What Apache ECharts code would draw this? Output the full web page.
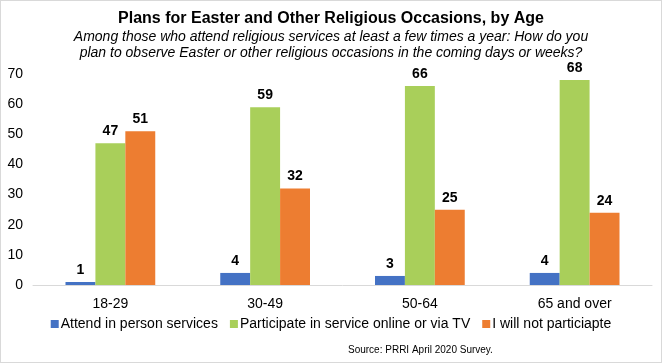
<!DOCTYPE html>
<html><head><meta charset="utf-8">
<script src="https://cdn.jsdelivr.net/npm/echarts@6/dist/echarts.min.js"></script>
<style>html,body{margin:0;padding:0;background:#fff}#c{width:660px;height:361px;border:1px solid #d9d9d9}</style>
</head><body><div id="c"></div>
<script>
const categories = ['18-29','30-49','50-64','65 and over'];
const seriesNames = ['Attend in person services','Participate in service online or via TV','I will not particiapte'];
const attendInPerson = [1,4,3,4];
const participateOnline = [47,59,66,68];
const willNotParticipate = [51,32,25,24];
const colors = ['#4472C4','#A9CF5A','#ED7D31'];
const font = 'Liberation Sans, Arial, sans-serif';
const chart = echarts.init(document.getElementById('c'));
const lbl = {show:true,position:'top',fontFamily:font,fontWeight:'bold',fontSize:14,color:'#000',distance:5};
chart.setOption({
  animation:false,
  title:[
    {text:'Plans for Easter and Other Religious Occasions, by Age',left:'center',top:5,textStyle:{fontFamily:font,fontWeight:'bold',fontSize:16,color:'#000'}},
    {text:'Among those who attend religious services at least a few times a year: How do you\nplan to observe Easter or other religious occasions in the coming days or weeks?',left:'center',top:23,textStyle:{fontFamily:font,fontStyle:'italic',fontWeight:'normal',fontSize:14,lineHeight:16,color:'#000'}},
    {text:'Source: PRRI April 2020 Survey.',left:342,top:339,textStyle:{fontFamily:font,fontWeight:'normal',fontSize:10,color:'#000'}}
  ],
  legend:{bottom:26,left:'center',itemWidth:8,itemHeight:8,itemGap:12,icon:'rect',textStyle:{fontFamily:font,fontSize:14,color:'#000',padding:[0,0,0,-3]},data:seriesNames},
  grid:{left:32,right:9,top:73,bottom:77},
  xAxis:{type:'category',data:categories,axisLine:{lineStyle:{color:'#d9d9d9'}},axisTick:{show:false},axisLabel:{fontFamily:font,fontSize:14,color:'#000',margin:12}},
  yAxis:{type:'value',min:0,max:70,interval:10,splitLine:{show:false},axisLine:{show:false},axisTick:{show:false},axisLabel:{fontFamily:font,fontSize:14,color:'#000',margin:10}},
  series:[
    {name:seriesNames[0],type:'bar',data:attendInPerson,itemStyle:{color:colors[0]},label:lbl,barGap:'0%',barCategoryGap:'42%'},
    {name:seriesNames[1],type:'bar',data:participateOnline,itemStyle:{color:colors[1]},label:lbl},
    {name:seriesNames[2],type:'bar',data:willNotParticipate,itemStyle:{color:colors[2]},label:lbl}
  ]
});
</script></body></html>
